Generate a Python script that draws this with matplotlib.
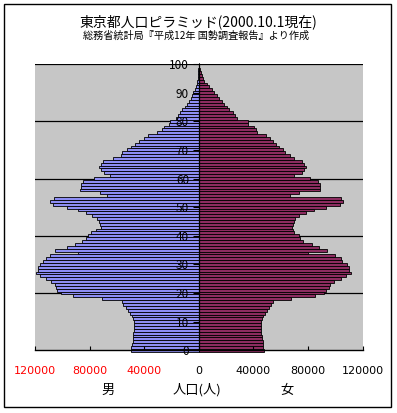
import matplotlib
matplotlib.use('Agg')
import matplotlib.pyplot as plt
from matplotlib.patches import Rectangle

plt.rcParams['font.family'] = ['Noto Sans CJK JP', 'DejaVu Sans']

title = '東京都人口ピラミッド(2000.10.1現在)'
subtitle = '総務省統計局『平成12年 国勢調査報告』より作成'

ages = list(range(0, 101))
male = [49500, 49300, 49000, 48500, 48300, 48500, 48500, 47500, 47500, 47300,
        47300, 48000, 48800, 50500, 51700, 53400, 55400, 56600, 70600, 92100,
        100700, 103600, 104900, 105100, 108000, 111700, 116100, 119600, 117800, 117800,
        116100, 114200, 112200, 108800, 88200, 105100, 96300, 90900, 85300, 82800,
        81100, 78600, 75000, 71500, 72500, 73300, 74200, 77900, 82300, 88400,
        96300, 106800, 108800, 106300, 67100, 72500, 86700, 86000, 86500, 84800,
        76700, 65200, 69600, 71300, 73000, 71300, 70100, 63200, 56800, 55900,
        52700, 49700, 46600, 44100, 39900, 37000, 30900, 27200, 25700, 21600,
        21100, 16700, 15400, 13700, 12500, 10000, 8300, 6900, 5900, 4900,
        3900, 2900, 2200, 1500, 1200, 700, 500, 300, 200, 100,
        100]
female = [47500, 47000, 46800, 46800, 46500, 46000, 45500, 45800, 45800, 45600,
          45800, 46300, 47000, 48500, 50000, 51200, 52900, 54400, 67900, 85500,
          91600, 93600, 95300, 96500, 99000, 103900, 107600, 111700, 110000, 110000,
          108800, 105100, 103900, 100200, 79900, 94100, 88000, 83100, 76400, 74500,
          73300, 70100, 69100, 68600, 69100, 70100, 70300, 73700, 78900, 84300,
          93600, 103400, 105800, 103900, 67100, 73300, 89200, 88700, 89200, 87500,
          81800, 70100, 75700, 76900, 78900, 77400, 76000, 70100, 67100, 63200,
          61500, 59100, 56600, 54400, 52000, 49500, 42600, 41700, 40200, 36300,
          35800, 28200, 26500, 24800, 22500, 20600, 18600, 16900, 14900, 13200,
          11300, 9600, 7600, 5900, 3900, 3400, 2200, 1700, 1000, 500,
          300]

xticks = [-120000, -80000, -40000, 0, 40000, 80000, 120000]
xticklabels = ['120000', '80000', '40000', '0', '40000', '80000', '120000']
yticks = list(range(0, 101, 10))
gridlines = [20, 40, 60, 80, 100]

W, H = 397, 413
fig = plt.figure(figsize=(W / 100, H / 100), dpi=100)
fig.patch.set_facecolor('white')

ax = fig.add_axes([35 / W, 62.7 / H, 327.5 / W, 286.3 / H])
ax.set_facecolor('#c6c6c6')
ax.set_axisbelow(False)

for g in gridlines:
    ax.axhline(g, color='black', lw=0.9, zorder=1)

ax.barh(ages, [-m for m in male], height=1.0, color='#8e8ef4',
        edgecolor='black', linewidth=0.6, clip_on=False, zorder=2)
ax.barh(ages, female, height=1.0, color='#8c2c60',
        edgecolor='black', linewidth=0.6, clip_on=False, zorder=2)

ax.set_xlim(-120000, 120000)
ax.set_ylim(0, 100)

for s in ['top', 'right']:
    ax.spines[s].set_visible(False)
ax.spines['left'].set_position(('data', 0))
ax.spines['left'].set_color('black')
ax.spines['left'].set_linewidth(0.9)
ax.spines['left'].set_zorder(3)
ax.spines['bottom'].set_color('black')
ax.spines['bottom'].set_linewidth(1.0)

ax.set_xticks(xticks)
ax.set_xticklabels(xticklabels)
ax.tick_params(axis='x', direction='in', length=3, width=0.8, pad=11,
               labelsize=8, colors='black')
for lbl, v in zip(ax.get_xticklabels(), xticks):
    lbl.set_color('red' if v < 0 else 'black')
    lbl.set_fontfamily(['DejaVu Sans'])

ax.set_yticks(yticks)
ax.set_yticklabels([str(t) for t in yticks])
ax.tick_params(axis='y', direction='out', length=4, width=0.8, pad=3,
               labelsize=8.5)
for lbl in ax.get_yticklabels():
    lbl.set_zorder(4)

fig.text(198 / W, 1 - 21.5 / H, title, ha='center', va='center', fontsize=10)
fig.text(196 / W, 1 - 35.5 / H, subtitle, ha='center', va='center', fontsize=7.3)

fig.text(108 / W, 1 - 390 / H, '男', ha='center', va='center', fontsize=9.5)
fig.text(197 / W, 1 - 390 / H, '人口(人)', ha='center', va='center', fontsize=9.5)
fig.text(287 / W, 1 - 390 / H, '女', ha='center', va='center', fontsize=9.5)

fig.add_artist(Rectangle((4 / W, 6 / H), 387 / W, 403 / H, transform=fig.transFigure,
                         fill=False, edgecolor='black', lw=1.0))

fig.savefig('out.png', dpi=100)
